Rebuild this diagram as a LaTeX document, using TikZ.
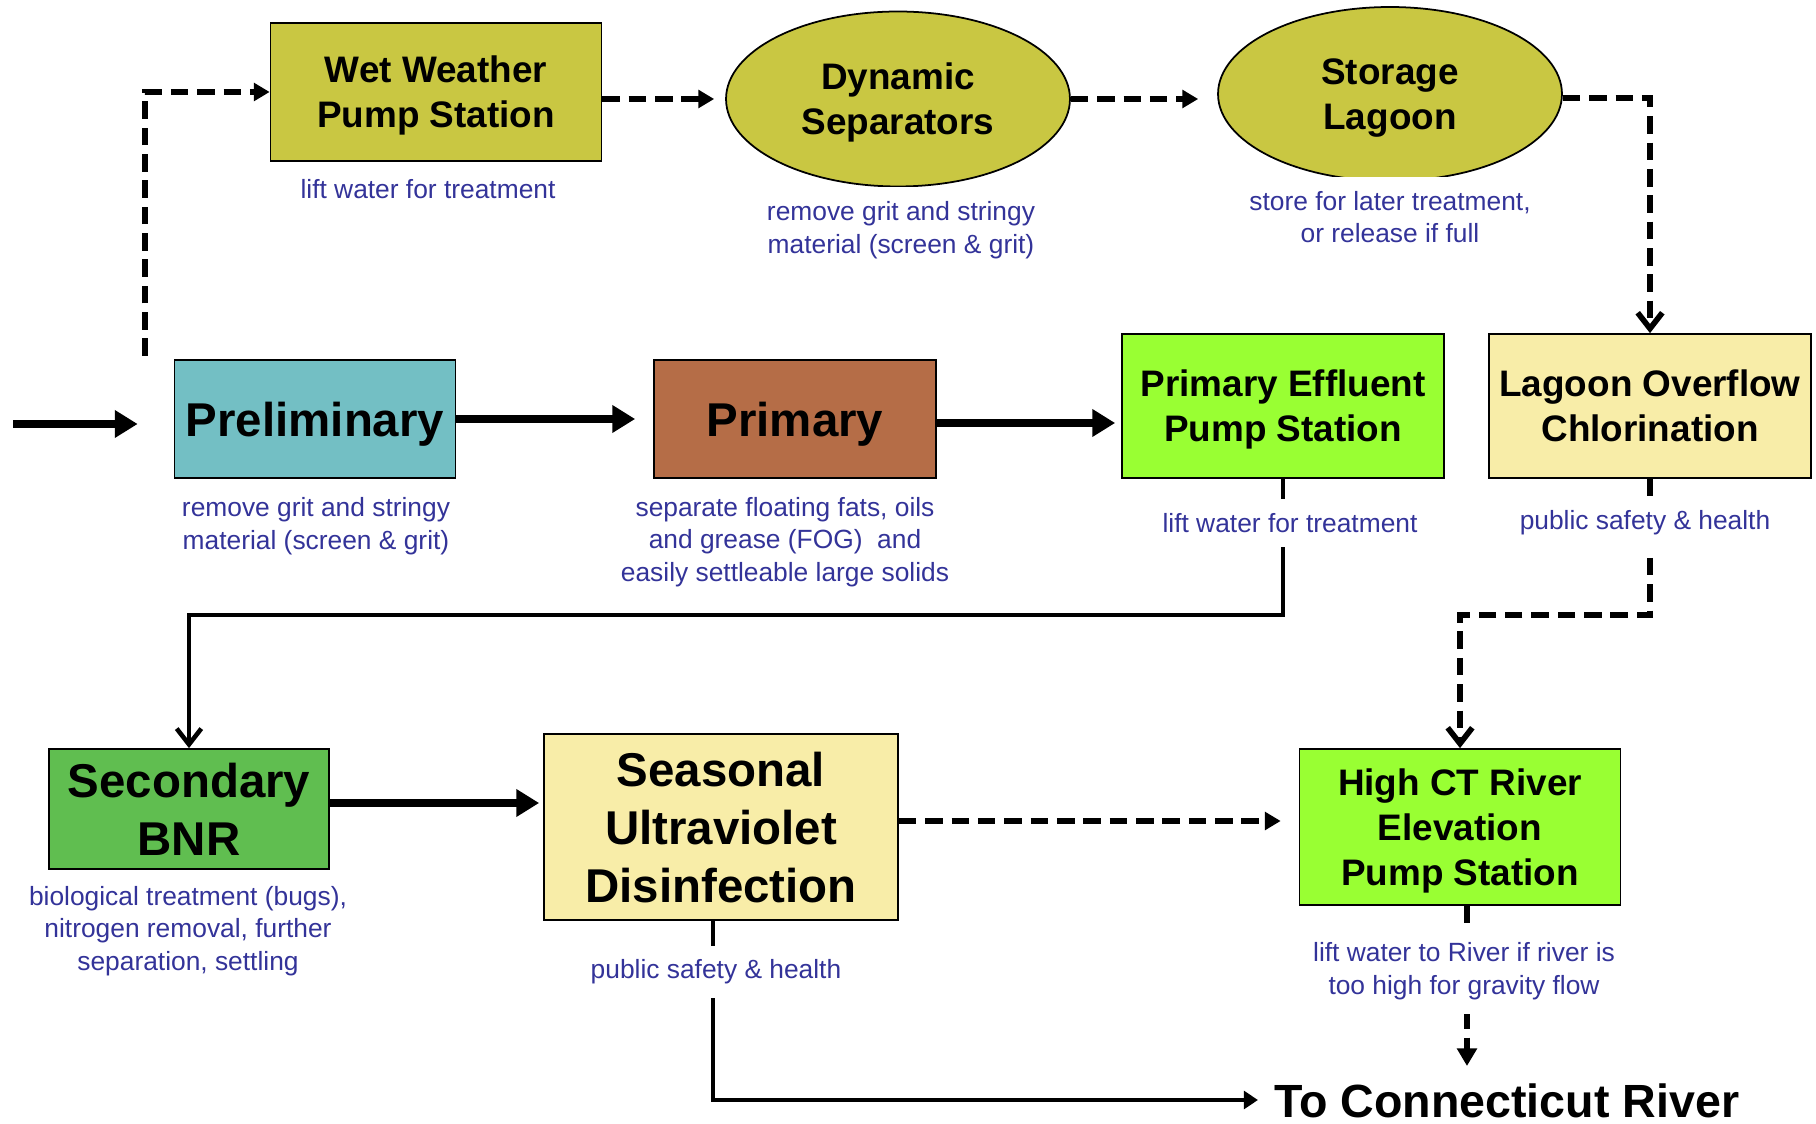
\documentclass[tikz,border=0pt]{standalone}
\usepackage{fontspec}
\setmainfont{Liberation Sans}
\usetikzlibrary{shapes.geometric,arrows.meta}
\definecolor{olivebox}{RGB}{201,199,66}
\definecolor{tealbox}{RGB}{115,191,196}
\definecolor{brownbox}{RGB}{181,109,71}
\definecolor{limebox}{RGB}{153,255,51}
\definecolor{creambox}{RGB}{248,237,168}
\definecolor{greenbox}{RGB}{96,190,80}
\definecolor{notecol}{RGB}{51,51,153}
\tikzset{
  box/.style={draw,line width=1pt,align=center,inner xsep=2pt,text depth=-2pt,font=\bfseries\fontsize{21}{25.5}\selectfont},
  bigbox/.style={box,font=\bfseries\fontsize{27}{33}\selectfont},
  tank/.style={ellipse,draw,line width=1pt,fill=olivebox,align=center,text depth=-2pt,font=\bfseries\fontsize{21}{25.5}\selectfont},
  note/.style={fill=white,text=notecol,align=center,inner xsep=2pt,inner ysep=8pt,font=\fontsize{15}{18.5}\selectfont},
  flow/.style={line width=4.2pt,-{Triangle[length=13pt,width=15pt]}},
  pipe/.style={line width=2.6pt,-{Straight Barb[length=9pt,width=14pt]}},
  outfall/.style={line width=2.6pt,-{Triangle[length=8pt,width=10pt]}},
  wet/.style={line width=3.2pt,dash pattern=on 10pt off 5pt,-{Triangle[length=9pt,width=10pt]}},
  wetbarb/.style={wet,-{Straight Barb[length=9pt,width=14pt]}}
}
\begin{document}
\begin{tikzpicture}[x=0.02cm,y=-0.02cm]
\useasboundingbox (0,0) rectangle (1816,1124);
\node (ww)  at ( 436, 92) [box,fill=olivebox,minimum width=6.62cm,minimum height=2.76cm] {Wet Weather\\Pump Station};
\node (ds)  at ( 898, 99) [tank,minimum width=6.88cm,minimum height=3.5cm] {Dynamic\\Separators};
\node (sl)  at (1390, 94) [tank,minimum width=6.88cm,minimum height=3.48cm] {Storage\\Lagoon};
\node (pre) at ( 315,419) [bigbox,fill=tealbox,minimum width=5.62cm,minimum height=2.36cm] {Preliminary};
\node (pri) at ( 795,419) [bigbox,fill=brownbox,minimum width=5.64cm,minimum height=2.36cm] {Primary};
\node (pe)  at (1283,406) [box,fill=limebox,minimum width=6.44cm,minimum height=2.88cm] {Primary Effluent\\Pump Station};
\node (loc) at (1650,406) [box,fill=creambox,minimum width=6.44cm,minimum height=2.88cm] {Lagoon Overflow\\Chlorination};
\node (bnr) at ( 189,809) [bigbox,fill=greenbox,minimum width=5.6cm,minimum height=2.4cm] {Secondary\\BNR};
\node (uv)  at ( 721,827) [bigbox,fill=creambox,minimum width=7.08cm,minimum height=3.72cm] {Seasonal\\Ultraviolet\\Disinfection};
\node (hct) at (1460,827) [box,fill=limebox,minimum width=6.42cm,minimum height=3.12cm] {High CT River\\Elevation\\Pump Station};
\node (river) at (1274,1117) [anchor=base west,inner sep=0pt,font=\bfseries\fontsize{26.5}{30}\selectfont] {To Connecticut River};
\coordinate (in)   at (13,424);
\coordinate (wwin) at (145,356);
\coordinate (rv)   at (1467,1066);
\coordinate (rw)   at (1258,1100);
\draw[flow,shorten >=0.72cm]  (in) -- (in -| pre.west);
\draw[flow,shorten >=0.36cm]  (pre.east) -- (pri.west);
\draw[flow,shorten >=0.12cm]  ([yshift=-0.08cm]pri.east) -- ([yshift=-0.08cm]pri.east -| pe.west);
\draw[pipe]  (pe.south) -- ++(0,136) -| (bnr.north);
\draw[flow,shorten >=0.08cm]  ([yshift=0.12cm]bnr.east) -- ([yshift=0.12cm]bnr.east -| uv.west);
\draw[outfall]  ([xshift=-0.16cm]uv.south) |- (rw);
\draw[wet]  (wwin) |- (ww.west);
\draw[wet,shorten >=0.22cm]  (ds.west -| ww.east) -- (ds.west);
\draw[wet,shorten >=0.38cm]  (ds.east) -- (ds.east -| sl.west);
\draw[wetbarb]  ([yshift=-0.08cm]sl.east) -| (loc.north);
\draw[wetbarb]  (loc.south) -- ++(0,136) -| (hct.north);
\draw[wet,shorten >=0.36cm]  ([yshift=0.12cm]uv.east) -- ([yshift=0.12cm]hct.west);
\draw[wet,-{Triangle[length=10pt,width=11pt]}]  (rv |- hct.south) -- (rv);
\node (wwd)  at ( 428,189) [note] {lift water for treatment};
\node (dsd)  at ( 901,230) [note] {remove grit and stringy\\material (screen \& grit)};
\node (sld)  at (1390,217) [note] {store for later treatment,\\or release if full};
\node (pred) at ( 316,526) [note] {remove grit and stringy\\material (screen \& grit)};
\node (prid) at ( 785,542) [note] {separate floating fats, oils\\and grease (FOG)~ and\\easily settleable large solids};
\node (ped)  at (1290,523) [note] {lift water for treatment};
\node (locd) at (1645,523) [note] {public safety \& health};
\node (bnrd) at ( 188,931) [note] {biological treatment (bugs),\\nitrogen removal, further\\separation, settling};
\node (uvd)  at ( 716,972) [note] {public safety \& health};
\node (hctd) at (1464,971) [note] {lift water to River if river is\\too high for gravity flow};
\end{tikzpicture}
\end{document}
